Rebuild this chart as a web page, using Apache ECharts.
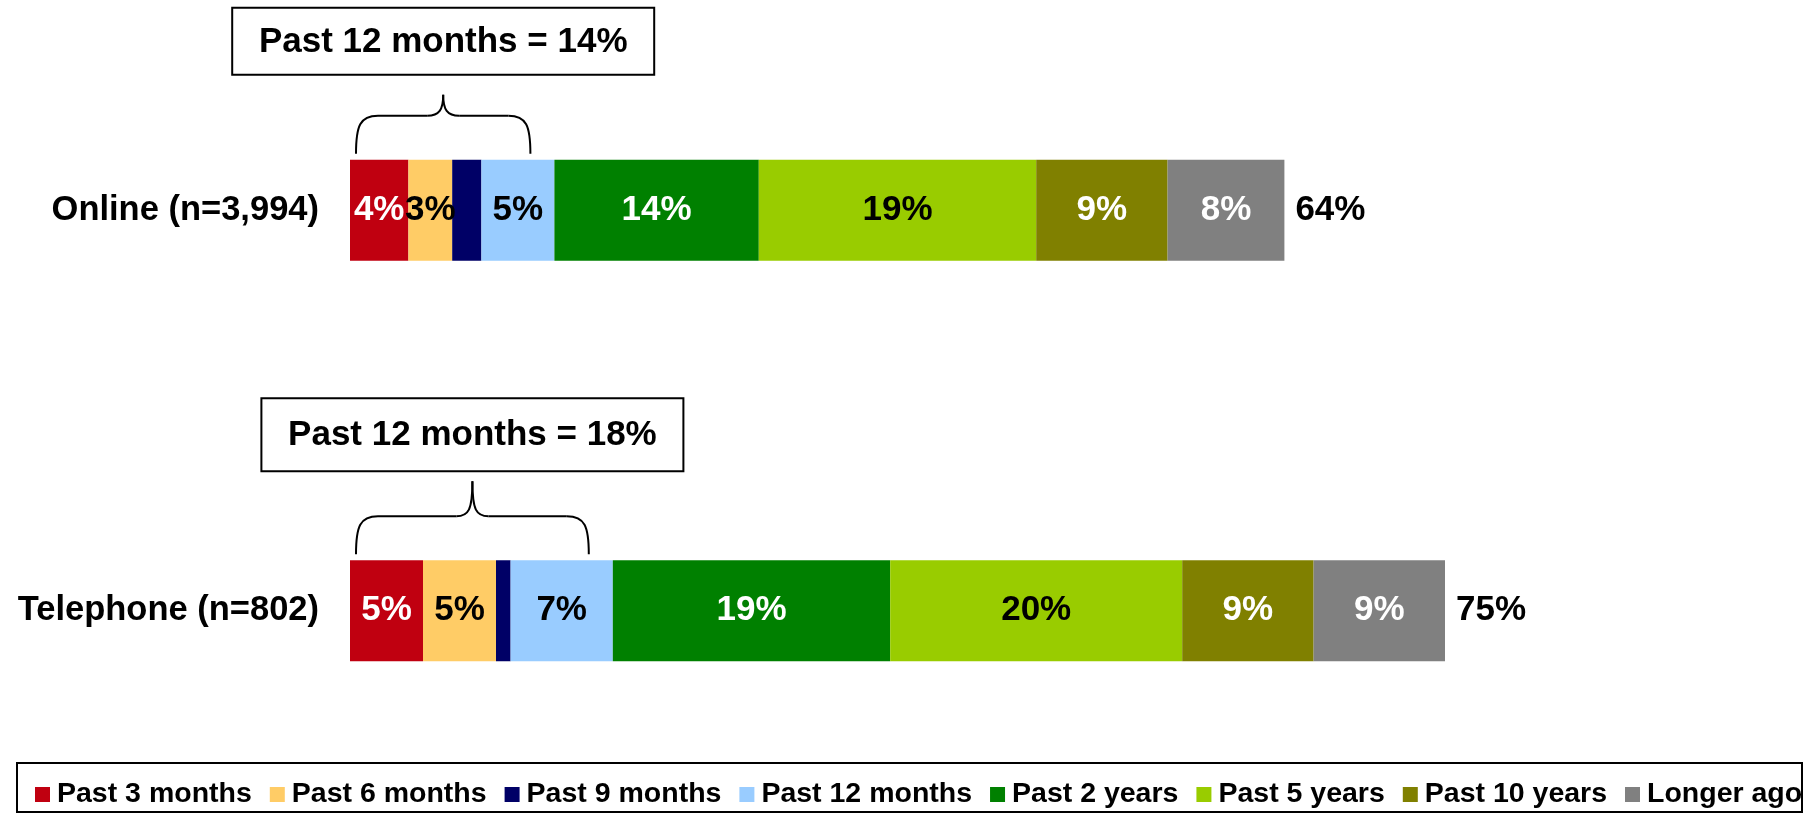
<!DOCTYPE html>
<html>
<head>
<meta charset="utf-8">
<script src="https://cdn.jsdelivr.net/npm/echarts@6/dist/echarts.min.js"></script>
<style>
  html, body { margin: 0; padding: 0; background: #fff; }
  #chart { width: 1818px; height: 817px; }
</style>
</head>
<body>
<div id="chart"></div>
<script>
// data
const categories = ['Online (n=3,994)', 'Telephone (n=802)'];
const seriesNames = ['Past 3 months', 'Past 6 months', 'Past 9 months', 'Past 12 months',
  'Past 2 years', 'Past 5 years', 'Past 10 years', 'Longer ago'];
const past3m = [4, 5];
const past6m = [3, 5];
const past9m = [2, 1];
const past12m = [5, 7];
const past2y = [14, 19];
const past5y = [19, 20];
const past10y = [9, 9];
const longerAgo = [8, 9];
const totals = [64, 75];

const values = [past3m, past6m, past9m, past12m, past2y, past5y, past10y, longerAgo];
const colors = ['#C00010', '#FFCC66', '#000066', '#99CCFF', '#008000', '#99CC00', '#808000', '#808080'];
const labelColors = ['#fff', '#000', null, '#000', '#fff', '#000', '#fff', '#fff'];

const FONT = '"Liberation Sans", Arial, sans-serif';
const BAR_W = 101;
// annotation layout per row: box top / brace peak above the bar top
const boxLift = [152, 162];
const boxHeight = [67, 73];
const peakLift = [65, 79];

const chart = echarts.init(document.getElementById('chart'));

const barSeries = seriesNames.map((name, i) => ({
  name,
  type: 'bar',
  stack: 'all',
  barWidth: BAR_W,
  data: values[i],
  itemStyle: { color: colors[i] },
  label: {
    show: labelColors[i] !== null,
    position: 'inside',
    formatter: '{c}%',
    color: labelColors[i] || '#000',
    fontFamily: FONT,
    fontWeight: 'bold',
    fontSize: 35,
  },
  emphasis: { disabled: true },
}));

const totalSeries = {
  name: 'total',
  type: 'scatter',
  symbolSize: 0.01,
  itemStyle: { color: '#000', opacity: 1 },
  data: totals.map((t, i) => [t, categories[i]]),
  label: {
    show: true,
    position: 'right',
    distance: 11,
    formatter: (p) => p.value[0] + '%',
    color: '#000',
    fontFamily: FONT,
    fontWeight: 'bold',
    fontSize: 35,
  },
  emphasis: { disabled: true },
};

chart.setOption({
  animation: false,
  grid: { left: 350, right: 8, top: 10, bottom: 6 },
  xAxis: { type: 'value', min: 0, max: 100, show: false },
  yAxis: {
    type: 'category',
    data: categories,
    inverse: true,
    axisLine: { show: false },
    axisTick: { show: false },
    axisLabel: {
      margin: 31,
      color: '#000',
      fontFamily: FONT,
      fontWeight: 'bold',
      fontSize: 34.5,
    },
  },
  legend: {
    data: seriesNames,
    left: 30,
    top: 775,
    width: 2200,
    icon: 'rect',
    itemWidth: 15,
    itemHeight: 15,
    itemGap: 18,
    textStyle: {
      color: '#000',
      fontFamily: FONT,
      fontWeight: 'bold',
      fontSize: 28.5,
      padding: [0, 0, 0, 2],
    },
    selectedMode: false,
  },
  series: [...barSeries, totalSeries],
});

// brace + "Past 12 months" boxes, placed through the axis scales
const lineStyle = { fill: 'none', stroke: '#000', lineWidth: 2 };
const graphics = [{
  type: 'rect',
  shape: { x: 17, y: 763, width: 1785, height: 49 },
  style: { fill: 'none', stroke: '#000', lineWidth: 2 },
  z: 10,
}];

categories.forEach((cat, i) => {
  const past12Sum = past3m[i] + past6m[i] + past9m[i] + past12m[i];
  const p0 = chart.convertToPixel({ gridIndex: 0 }, [0, cat]);
  const p1 = chart.convertToPixel({ gridIndex: 0 }, [past12Sum, cat]);
  const barTop = p0[1] - BAR_W / 2;
  const xL = p0[0] + 6;
  const xR = p1[0] - 24;
  const xM = (xL + xR) / 2;
  const yE = barTop - 6;
  const yA = barTop - 44;
  const yP = barTop - peakLift[i];
  const curves = [
    [xL, yE, xL, yA + 10, xL + 4, yA, xL + 22, yA],
    [xM - 16, yA, xM - 4, yA, xM, yA - 6, xM, yP],
    [xM, yP, xM, yA - 6, xM + 4, yA, xM + 16, yA],
    [xR - 22, yA, xR - 4, yA, xR, yA + 10, xR, yE],
  ];
  curves.forEach((c) => {
    graphics.push({
      type: 'bezierCurve',
      shape: { x1: c[0], y1: c[1], cpx1: c[2], cpy1: c[3], cpx2: c[4], cpy2: c[5], x2: c[6], y2: c[7] },
      style: lineStyle,
    });
  });
  graphics.push({
    type: 'line',
    shape: { x1: xL + 22, y1: yA, x2: xM - 16, y2: yA },
    style: lineStyle,
  });
  graphics.push({
    type: 'line',
    shape: { x1: xM + 16, y1: yA, x2: xR - 22, y2: yA },
    style: lineStyle,
  });
  const top = barTop - boxLift[i];
  graphics.push({
    type: 'rect',
    shape: { x: xM - 211, y: top, width: 422, height: boxHeight[i] },
    style: { fill: '#fff', stroke: '#000', lineWidth: 2 },
  });
  graphics.push({
    type: 'text',
    x: xM,
    y: top + boxHeight[i] / 2 + 1,
    style: {
      text: 'Past 12 months = ' + past12Sum + '%',
      fill: '#000',
      font: 'bold 35px ' + FONT,
      align: 'center',
      verticalAlign: 'middle',
    },
  });
});

chart.setOption({ graphic: graphics });
</script>
</body>
</html>
